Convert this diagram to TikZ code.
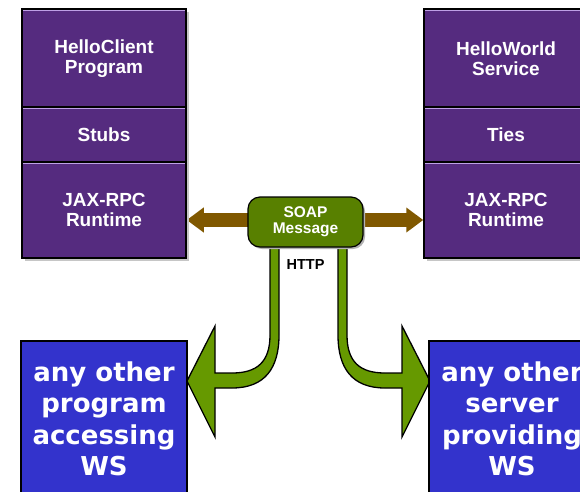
\documentclass[tikz,border=0pt]{standalone}
\usepackage{fontspec}
\setmainfont{Liberation Sans}
\newfontfamily\wsfont{DejaVu Sans}
\usetikzlibrary{arrows.meta,shadows,backgrounds}

\definecolor{jaxpurple}{RGB}{85,43,127}
\definecolor{jaxlilac}{RGB}{190,160,230}
\definecolor{soapgreen}{RGB}{88,128,0}
\definecolor{pipegreen}{RGB}{102,153,0}
\definecolor{msgbrown}{RGB}{128,88,0}
\definecolor{wsblue}{RGB}{51,51,204}

\begin{document}
\begin{tikzpicture}[x=1pt,y=-1pt,
    cell/.style={draw=black, line width=1.5pt, fill=jaxpurple, minimum width=164pt,
        text=white, align=center, font=\fontsize{19}{20.5}\selectfont\bfseries,
        drop shadow={shadow xshift=3pt, shadow yshift=-3pt, fill=gray!45, opacity=1},
        path picture={\draw[jaxlilac, line width=1pt]
            ([yshift=-1.8pt]path picture bounding box.north west) --
            ([yshift=-1.8pt]path picture bounding box.north east);}},
    wsbox/.style={draw=black, line width=1.5pt, fill=wsblue, minimum width=166pt,
        minimum height=156pt, text=white, align=center,
        font=\wsfont\fontsize{26}{31.5}\selectfont\bfseries},
    soapbox/.style={draw=black, line width=1.2pt, fill=soapgreen, rounded corners=12pt,
        minimum width=115pt, minimum height=50pt, text=white, align=center,
        font=\fontsize{15.5}{16}\selectfont\bfseries,
        drop shadow={shadow xshift=2pt, shadow yshift=-2pt, fill=gray!60, opacity=1}},
    msgarrow/.style={msgbrown, line width=14pt,
        {Triangle[width=24pt,length=17pt]}-{Triangle[width=24pt,length=17pt]}},
    pipe/.style={draw=black, line width=1.3pt, fill=pipegreen, line join=miter}]

    \useasboundingbox (0,0) rectangle (580,491);

    % client side stack
    \node[cell, minimum height=99pt] (hcprog) at (104,58.5) {HelloClient\\Program};
    \node[cell, minimum height=55pt] (stubs) at (104,134.5) {Stubs};
    \node[cell, minimum height=96pt] (jaxl) at (104,210) {JAX-RPC\\Runtime};

    % service side stack
    \node[cell, minimum height=99pt] (hwsvc) at (506,58.5) {HelloWorld\\Service};
    \node[cell, minimum height=55pt] (ties) at (506,134.5) {Ties};
    \node[cell, minimum height=96pt] (jaxr) at (506,210) {JAX-RPC\\Runtime};

    \node[soapbox] (soap) at (305.5,222) {SOAP\\Message};
    \node[font=\fontsize{14.5}{14.5}\selectfont\bfseries] (http) at (305.5,265) {HTTP};

    \node[wsbox] (clientws) at (104,419) {any other\\program\\accessing\\WS};
    \node[wsbox] (serverws) at (512,419) {any other\\server\\providing\\WS};

    \begin{scope}[on background layer]
        \draw[msgarrow] ([yshift=-10pt]jaxl.east) -- ([yshift=-10pt]jaxr.west);

        % http down to the client
        \draw[pipe] (270,240) -- (270,335) .. controls (270,362) and (257,373) .. (232,373)
            -- (215,373) -- (215,326) -- (187,381) -- (215,437) -- (215,388) -- (232,388)
            .. controls (265,388) and (279,368) .. (279,335) -- (279,240) -- cycle;
        % http down to the server
        \draw[pipe] (347,240) -- (347,335) .. controls (347,362) and (360,373) .. (385,373)
            -- (402,373) -- (402,326) -- (430,381) -- (402,437) -- (402,388) -- (385,388)
            .. controls (352,388) and (338,368) .. (338,335) -- (338,240) -- cycle;
    \end{scope}
\end{tikzpicture}
\end{document}
